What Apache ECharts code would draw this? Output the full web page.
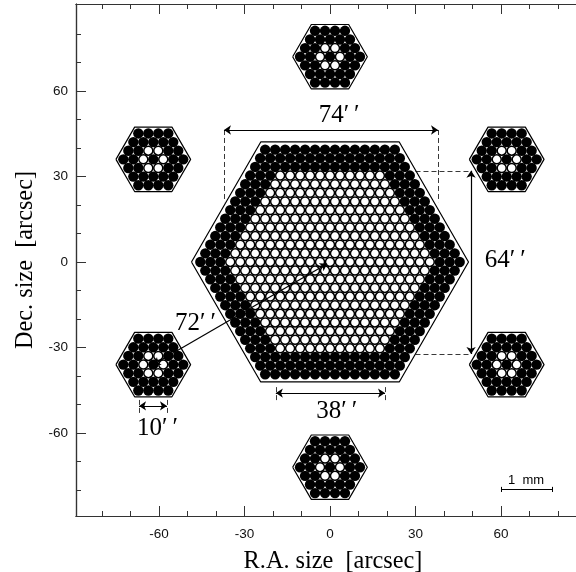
<!DOCTYPE html>
<html><head><meta charset="utf-8">
<style>html,body{margin:0;padding:0;background:#fff}#c{width:576px;height:572px}</style>
<script src="https://cdn.jsdelivr.net/npm/echarts@6/dist/echarts.min.js"></script>
</head><body><div id="c"></div>
<script>
// Fibre lattice table (arcsec)
const pitch = 3.5;
const bigRowY = [39.4,36.37,33.34,30.31,27.28,24.25,21.22,18.19,15.16,12.13,9.09,6.06,3.03,0,-3.03,-6.06,-9.09,-12.13,-15.16,-18.19,-21.22,-24.25,-27.28,-30.31,-33.34,-36.37,-39.4];
const bigRowCount = [14,15,16,17,18,19,20,21,22,23,24,25,26,27,26,25,24,23,22,21,20,19,18,17,16,15,14];
const bigRowWhite = [0,0,0,11,12,13,14,15,16,17,18,19,20,21,20,19,18,17,16,15,14,13,12,11,0,0,0];
const miniRowY = [9.09,6.06,3.03,0,-3.03,-6.06,-9.09];
const miniRowCount = [4,5,6,7,6,5,4];
const miniRowWhiteX = [[],[],[-1.75,1.75],[-3.5,3.5],[-1.75,1.75],[],[]];  // the ring of six around a dark centre
const miniCentres = [[0,72],[0,-72],[-62,36],[62,36],[-62,-36],[62,-36]];
const bigHex = [[-48.6,0],[-24.3,42.1],[24.3,42.1],[48.6,0],[24.3,-42.1],[-24.3,-42.1],[-48.6,0]];
const miniHex = [[-13.1,0],[-6.55,11.3],[6.55,11.3],[13.1,0],[6.55,-11.3],[-6.55,-11.3],[-13.1,0]];
// Dimension marks
const arrows = [
  [[-37.2,46.3],[37.9,46.3]],
  [[49.5,32],[49.5,-32.3]],
  [[-19,-46],[19.3,-46]],
  [[-67,-50.5],[-57.2,-50.5]],
  [[-1,-0.6],[-62,-36]]
];
const dashes = [
  [[-37.2,46.3],[-37.2,21]],
  [[37.9,46.3],[37.9,21]],
  [[30,32],[49.5,32]],
  [[30,-32.3],[49.5,-32.3]],
  [[-19,-43.9],[-19,-48.5]],
  [[19.3,-43.9],[19.3,-48.5]],
  [[-67,-48.4],[-67,-53]],
  [[-57.2,-48.4],[-57.2,-53]]
];
const scaleBar = [[60,-79.8],[78,-79.8]];
const scaleCaps = [[[60,-78.9],[60,-80.7]],[[78,-78.9],[78,-80.7]]];
const bigLabels = [[3.2,51.5,"74′\u2009′"],[61.5,0.7,"64′\u2009′"],[-47.2,-21.4,"72′\u2009′"],[2.4,-52.3,"38′\u2009′"],[-60.5,-58.3,"10′\u2009′"]];
const smallLabels = [[68.8,-76.5,"1  mm"]];
const majorTicks = [-60,-30,0,30,60];
const minorTicks = [-80,-70,-50,-40,-20,-10,10,20,40,50,70,80];

const black = [], white = [];
bigRowY.forEach((y,r)=>{
  const n = bigRowCount[r], w = bigRowWhite[r];
  for(let i=0;i<n;i++){
    const k = i-(n-1)/2;
    (Math.abs(k) <= (w-1)/2 && w>0 ? white : black).push([k*pitch,y]);
  }
});
miniCentres.forEach(c=>{
  miniRowY.forEach((y,r)=>{
    const n = miniRowCount[r];
    for(let i=0;i<n;i++){
      const x = (i-(n-1)/2)*pitch;
      (miniRowWhiteX[r].includes(x) ? white : black).push([c[0]+x,c[1]+y]);
    }
  });
});

const X0=-89.12,X1=91.23,Y0=-89.12,Y1=90.5;
const axisCol='#333';
const xa=(pos,ticks,len,lab,extra)=>Object.assign({type:'value',position:pos,min:X0,max:X1,splitLine:{show:false},
  axisLine:{onZero:false,lineStyle:{color:axisCol,width:1.2}},
  axisTick:{show:true,inside:true,length:len,customValues:ticks,lineStyle:{color:axisCol,width:1}},
  axisLabel:{show:lab,customValues:ticks,margin:11,fontFamily:'Liberation Sans',fontSize:13.5,color:'#111',formatter:v=>String(v)}},extra||{});
const ya=(pos,ticks,len,lab,extra)=>Object.assign({type:'value',position:pos,min:Y0,max:Y1,splitLine:{show:false},
  axisLine:{onZero:false,lineStyle:{color:axisCol,width:1.2}},
  axisTick:{show:true,inside:true,length:len,customValues:ticks,lineStyle:{color:axisCol,width:1}},
  axisLabel:{show:lab,customValues:ticks,margin:8,padding:[5,0,0,0],fontFamily:'Liberation Sans',fontSize:13.5,color:'#111',formatter:v=>String(v)}},extra||{});
const nameStyle={fontFamily:'Liberation Serif',fontSize:24.3,color:'#000'};

const hexSeries=(pts)=>({type:'line',data:pts,symbol:'none',z:6,silent:true,lineStyle:{color:'#000',width:1.2},animation:false});
const series=[
 {type:'scatter',data:black,symbol:'circle',symbolSize:10.4,z:3,itemStyle:{color:'#000',opacity:1},silent:true},
 {type:'scatter',data:white,symbol:'circle',symbolSize:9,z:4,itemStyle:{color:'#fff',borderColor:'#000',borderWidth:1.5,opacity:1},silent:true},
 hexSeries(bigHex),
 ...miniCentres.map(c=>hexSeries(miniHex.map(p=>[p[0]+c[0],p[1]+c[1]]))),
 {type:'lines',coordinateSystem:'cartesian2d',polyline:false,z:8,silent:true,symbol:['arrow','arrow'],symbolSize:7,
  lineStyle:{color:'#000',width:1.2,opacity:1,curveness:0},data:arrows.map(c=>({coords:c}))},
 {type:'lines',coordinateSystem:'cartesian2d',z:5,silent:true,symbol:'none',
  lineStyle:{color:'#222',width:0.9,type:[5,3],opacity:1,curveness:0},data:dashes.map(c=>({coords:c}))},
 {type:'lines',coordinateSystem:'cartesian2d',z:8,silent:true,symbol:'none',
  lineStyle:{color:'#000',width:1,opacity:1,curveness:0},data:[{coords:scaleBar},...scaleCaps.map(c=>({coords:c}))]},
 {type:'scatter',data:bigLabels.map(d=>({value:[d[0],d[1]],name:d[2]})),symbolSize:1,z:9,silent:true,itemStyle:{color:'#000',opacity:0},
  label:{show:true,position:'inside',formatter:p=>p.name,fontFamily:'Liberation Serif',fontSize:25,color:'#000',opacity:1}},
 {type:'scatter',data:smallLabels.map(d=>({value:[d[0],d[1]],name:d[2]})),symbolSize:1,z:9,silent:true,itemStyle:{color:'#000',opacity:0},
  label:{show:true,position:'inside',formatter:p=>p.name,fontFamily:'Liberation Sans',fontSize:13,color:'#000',opacity:1}}
];
const chart=echarts.init(document.getElementById('c'),null,{renderer:'canvas'});
chart.setOption({
 animation:false,backgroundColor:'#fff',
 grid:{left:76,top:4,width:514,height:512,containLabel:false,outerBoundsMode:'none'},
 xAxis:[
  xa('bottom',majorTicks,10,true,{name:'R.A. size  [arcsec]',nameLocation:'middle',nameGap:34,nameTextStyle:nameStyle}),
  xa('bottom',minorTicks,5,false),
  xa('top',majorTicks,10,false),
  xa('top',minorTicks,5,false)
 ],
 yAxis:[
  ya('left',majorTicks,10,true,{name:'Dec. size  [arcsec]',nameLocation:'middle',nameGap:38,nameTextStyle:nameStyle}),
  ya('left',minorTicks,5,false),
  ya('right',majorTicks,10,false),
  ya('right',minorTicks,5,false)
 ],
 series
});
</script></body></html>
